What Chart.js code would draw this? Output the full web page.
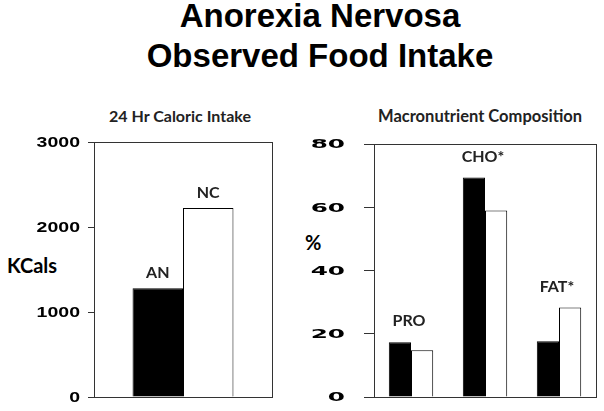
<!DOCTYPE html>
<html lang="en">
<head>
    <meta charset="UTF-8">
    <title>Anorexia Nervosa Observed Food Intake</title>
    <script src="https://cdn.jsdelivr.net/npm/chart.js"></script>
    <style>
        body { margin: 0; width: 604px; height: 411px; background: #fff; position: relative; overflow: hidden; }
        .abs { position: absolute; white-space: nowrap; color: #000; }
        #mainTitle { left: 18px; width: 604px; top: -4px; text-align: center; font: bold 33px/40px "Liberation Sans", Arial, sans-serif; }
        .sub { font: bold 16px/16px Lato, sans-serif; color: #222; text-align: center; }
        .ylab { font: bold 20px/20px Lato, sans-serif; }
        canvas { position: absolute; }
    </style>
</head>
<body>
    <div id="mainTitle" class="abs">Anorexia Nervosa<br>Observed Food Intake</div>
    <div class="abs sub" style="left:80px; width:200px; top:108px;">24 Hr Caloric Intake</div>
    <div class="abs sub" style="left:378px; width:200px; top:108px; font-size:16.5px;">Macronutrient Composition</div>
    <div class="abs ylab" style="left:7px; top:255px;">KCals</div>
    <div class="abs ylab" style="left:305px; top:232px;">%</div>

    <canvas id="calChart" width="290" height="281" style="left:0; top:130px;"></canvas>
    <canvas id="macroChart" width="314" height="281" style="left:290px; top:130px;"></canvas>

    <script>
        // 24 hr caloric intake
        const calGroups = ['AN', 'NC'];
        const calValues = [1280, 2225];
        const calTicks = [0, 1000, 2000, 3000];

        // macronutrient composition (%)
        const macroCategories = ['PRO', 'CHO*', 'FAT*'];
        const anValues = [17.3, 69.4, 17.6];
        const ncValues = [14.8, 59.0, 28.3];
        const macroTicks = [0, 20, 40, 60, 80];

        // frame around plot area
        const frame = {
            id: 'frame',
            afterDraw(chart) {
                const a = chart.chartArea, ctx = chart.ctx;
                ctx.save();
                ctx.strokeStyle = '#333';
                ctx.lineWidth = 1;
                ctx.strokeRect(Math.round(a.left) + 0.5, Math.round(a.top) + 0.5,
                    Math.round(a.right - a.left), Math.round(a.bottom - a.top));
                ctx.restore();
            }
        };

        // wide bold tick numbers, positioned by the y scale
        const wideTicks = {
            id: 'wideTicks',
            afterDraw(chart, args, opts) {
                const s = chart.scales.y, ctx = chart.ctx;
                const x = chart.chartArea.left - opts.gap;
                ctx.save();
                ctx.font = opts.font;
                ctx.fillStyle = '#000';
                ctx.textAlign = 'right';
                ctx.textBaseline = 'middle';
                s.ticks.forEach(t => {
                    ctx.save();
                    ctx.translate(x, s.getPixelForValue(t.value) + 1);
                    ctx.scale(opts.sx, 1);
                    ctx.fillText(String(t.value), 0, 0);
                    ctx.restore();
                });
                ctx.restore();
            }
        };

        // text above bars
        const barText = {
            id: 'barText',
            afterDatasetsDraw(chart, args, opts) {
                const ctx = chart.ctx;
                ctx.save();
                ctx.font = opts.font;
                ctx.fillStyle = '#222';
                ctx.textAlign = 'center';
                ctx.textBaseline = 'middle';
                if (opts.mode === 'dataset') {
                    chart.data.datasets.forEach((ds, i) => {
                        const bar = chart.getDatasetMeta(i).data[0];
                        ctx.fillText(ds.label, bar.x, bar.y - opts.offset);
                    });
                } else {
                    chart.data.labels.forEach((lab, j) => {
                        const bars = chart.data.datasets.map((ds, i) => chart.getDatasetMeta(i).data[j]);
                        const x = bars.reduce((s, b) => s + b.x, 0) / bars.length - 2;
                        const y = Math.min(...bars.map(b => b.y));
                        ctx.fillText(lab, x, y - opts.offset);
                    });
                }
                ctx.restore();
            }
        };

        function yScale(max, step, width, tickLen) {
            return {
                min: 0, max: max,
                ticks: { stepSize: step, display: false },
                grid: { drawOnChartArea: false, drawTicks: true, tickLength: tickLen, color: '#333' },
                border: { display: true, color: '#333' },
                afterFit(scale) { scale.width = width; }
            };
        }

        new Chart(document.getElementById('calChart'), {
            type: 'bar',
            data: {
                labels: [''],
                datasets: [
                    { label: calGroups[0], data: [calValues[0]], backgroundColor: '#000', borderColor: '#000', borderWidth: 1 },
                    { label: calGroups[1], data: [calValues[1]], backgroundColor: '#fff', borderColor: '#000', borderWidth: 1 }
                ]
            },
            options: {
                responsive: false,
                animation: false,
                layout: { padding: { left: 0, right: 18, top: 12, bottom: 14 } },
                datasets: { bar: { categoryPercentage: 0.567, barPercentage: 1 } },
                scales: {
                    x: { display: false },
                    y: yScale(calTicks[calTicks.length - 1], calTicks[1] - calTicks[0], 94, 6)
                },
                plugins: {
                    legend: { display: false },
                    tooltip: { enabled: false },
                    wideTicks: { font: 'bold 15px "Liberation Sans", Arial, sans-serif', sx: 1.3, gap: 14 },
                    barText: { mode: 'dataset', font: 'bold 16px Lato, sans-serif', offset: 15 }
                }
            },
            plugins: [frame, wideTicks, barText]
        });

        new Chart(document.getElementById('macroChart'), {
            type: 'bar',
            data: {
                labels: macroCategories,
                datasets: [
                    { label: 'AN', data: anValues, backgroundColor: '#000', borderColor: '#000', borderWidth: 1 },
                    { label: 'NC', data: ncValues, backgroundColor: '#fff', borderColor: '#000', borderWidth: 1 }
                ]
            },
            options: {
                responsive: false,
                animation: false,
                layout: { padding: { left: 0, right: 8, top: 14, bottom: 14 } },
                datasets: { bar: { categoryPercentage: 0.6, barPercentage: 1 } },
                scales: {
                    x: { display: false },
                    y: yScale(macroTicks[macroTicks.length - 1], macroTicks[1] - macroTicks[0], 84, 10)
                },
                plugins: {
                    legend: { display: false },
                    tooltip: { enabled: false },
                    wideTicks: { font: 'bold 13px "DejaVu Sans", sans-serif', sx: 1.9, gap: 29 },
                    barText: { mode: 'category', font: 'bold 16px Lato, sans-serif', offset: 21 }
                }
            },
            plugins: [frame, wideTicks, barText]
        });
    </script>
</body>
</html>
